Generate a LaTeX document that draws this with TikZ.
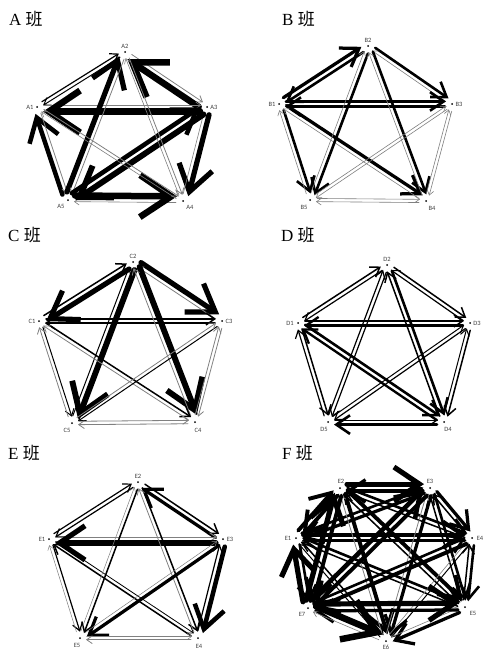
\documentclass[tikz,border=0pt]{standalone}
\usepackage{fontspec}
\setmainfont{Liberation Serif}
\newfontfamily\cjk{Noto Sans CJK SC}
\newfontfamily\lblfont{Carlito}
\usetikzlibrary{arrows.meta,calc,positioning}
\tikzset{
 dot/.style={circle,fill=black,inner sep=0pt,minimum size=2pt},
 lbl/.style={font=\lblfont\fontsize{6.5}{7}\selectfont,inner sep=0.6pt,text=black!75},
 ttl/.style={font=\fontsize{17}{19}\selectfont,anchor=west,inner sep=0pt},
 edge/.style={-{Straight Barb[length=2pt 4.5,width=3pt 6]},shorten <=7pt,shorten >=6pt,line cap=round,line join=round},
}
\newcommand\ed[4][black]{\pgfmathsetmacro\ew{#4>1.5 ? 1.3*#4 : #4}\pgfmathsetmacro\eoff{1.3+0.5*\ew}%
 \draw[edge,draw=#1,line width=\ew pt] ($(#2)!\eoff pt!90:(#3)$) -- ($(#3)!\eoff pt!-90:(#2)$);}
\newcommand\nd[6]{% name, x, y, text, label dx, label dy
 \node[dot] (#1) at (#2,#3) {}; \node[lbl] (#1l) at ($(#1)+(#5,#6)$) {#4};}
\begin{document}
\begin{tikzpicture}[x=1pt,y=-1pt]
\useasboundingbox[fill=white] (0,0) rectangle (483,650);
% titles
\node[ttl] (ta) at (9,19) {A {\cjk 班}};
\node[ttl] (tb) at (282,19) {B {\cjk 班}};
\node[ttl] (tc) at (8,235) {C {\cjk 班}};
\node[ttl] (td) at (281,235) {D {\cjk 班}};
\node[ttl] (te) at (8,453) {E {\cjk 班}};
\node[ttl] (tf) at (282,453) {F {\cjk 班}};
% ---------- A ----------
\nd{a2}{125}{52}{A2}{0}{-6}
\nd{a1}{37}{107}{A1}{-7}{0}
\nd{a3}{207}{107}{A3}{7}{0}
\nd{a5}{68}{200}{A5}{-7}{6}
\nd{a4}{183}{201}{A4}{7}{6}
\ed{a1}{a2}{1.2} \ed{a2}{a1}{1}
\ed[gray]{a2}{a3}{0.8} \ed{a3}{a2}{5}
\ed[gray]{a1}{a3}{0.6} \ed{a3}{a1}{5}
\ed{a3}{a4}{4} \ed[gray]{a4}{a3}{0.6}
\ed[gray]{a4}{a5}{0.6} \ed{a5}{a4}{5}
\ed{a5}{a1}{3.5} \ed[gray]{a1}{a5}{0.8}
\ed{a5}{a2}{4} \ed[gray]{a2}{a5}{0.8}
\ed{a3}{a5}{4.5} \ed{a5}{a3}{3.5}
\ed[gray]{a1}{a4}{0.8} \ed[gray]{a4}{a1}{0.6}
\ed[gray]{a2}{a4}{0.8} \ed[gray]{a4}{a2}{0.6}
% ---------- B ----------
\nd{b2}{368}{46}{B2}{0}{-6}
\nd{b1}{279}{104}{B1}{-7}{0}
\nd{b3}{452}{104}{B3}{7}{0}
\nd{b5}{310}{200}{B5}{-6}{7}
\nd{b4}{426}{201}{B4}{6}{7}
\ed{b1}{b2}{2.5} \ed{b2}{b1}{2}
\ed{b2}{b3}{2} \ed[gray]{b3}{b2}{0.6}
\ed{b1}{b3}{2} \ed{b3}{b1}{2}
\ed{b1}{b5}{2} \ed[gray]{b5}{b1}{0.6}
\ed{b1}{b4}{2.5} \ed[gray]{b4}{b1}{0.6}
\ed{b2}{b5}{2} \ed[gray]{b5}{b2}{0.6}
\ed{b2}{b4}{2} \ed[gray]{b4}{b2}{0.6}
\ed[gray]{b3}{b5}{0.6} \ed[gray]{b5}{b3}{0.6}
\ed[gray]{b3}{b4}{0.6} \ed[gray]{b4}{b3}{0.6}
\ed[gray]{b5}{b4}{0.6} \ed[gray]{b4}{b5}{0.6}
% ---------- C ----------
\nd{c2}{133}{262}{C2}{0}{-6}
\nd{c1}{39}{321}{C1}{-7}{0}
\nd{c3}{222}{321}{C3}{7}{0}
\nd{c5}{72}{423}{C5}{-5}{7}
\nd{c4}{195}{422}{C4}{3}{8}
\ed{c1}{c2}{1.5} \ed{c2}{c1}{4}
\ed{c2}{c3}{4} \ed[gray]{c3}{c2}{0.8}
\ed{c1}{c3}{1.5} \ed{c3}{c1}{1.5}
\ed{c2}{c5}{4.5} \ed{c5}{c2}{1}
\ed{c2}{c4}{4.5} \ed[gray]{c4}{c2}{0.8}
\ed{c1}{c5}{1} \ed[gray]{c5}{c1}{0.8}
\ed{c1}{c4}{1.5} \ed[gray]{c4}{c1}{0.8}
\ed{c3}{c5}{1} \ed[gray]{c5}{c3}{0.8}
\ed[gray]{c3}{c4}{0.8} \ed[gray]{c4}{c3}{0.8}
\ed[gray]{c5}{c4}{0.8} \ed[gray]{c4}{c5}{0.8}
% ---------- D ----------
\nd{d2}{387}{265}{D2}{0}{-6}
\nd{d1}{298}{323}{D1}{-8}{0}
\nd{d3}{470}{323}{D3}{7}{0}
\nd{d5}{328}{422}{D5}{-4}{7}
\nd{d4}{444}{422}{D4}{4}{7}
\ed{d1}{d2}{1.5} \ed{d2}{d1}{1.2}
\ed{d2}{d3}{1.5} \ed{d3}{d2}{1.2}
\ed{d1}{d3}{1.5} \ed{d3}{d1}{1.8}
\ed{d1}{d5}{1.5} \ed{d5}{d1}{1.2}
\ed{d1}{d4}{2} \ed{d4}{d1}{1.8}
\ed{d2}{d5}{1.2} \ed{d5}{d2}{1.2}
\ed{d2}{d4}{2} \ed{d4}{d2}{1.5}
\ed{d3}{d5}{1.2} \ed{d5}{d3}{1}
\ed{d3}{d4}{1.5} \ed{d4}{d3}{1}
\ed{d5}{d4}{1.2} \ed{d4}{d5}{2}
% ---------- E ----------
\nd{e2}{138}{482}{E2}{0}{-6}
\nd{e1}{49}{539}{E1}{-7}{0}
\nd{e3}{223}{539}{E3}{7}{0}
\nd{e5}{80}{638}{E5}{-3}{7}
\nd{e4}{198}{638}{E4}{1}{8}
\ed{e1}{e2}{1.2} \ed{e2}{e1}{1.2}
\ed{e2}{e3}{1.5} \ed{e3}{e2}{2.5}
\ed[gray]{e1}{e3}{1} \ed{e3}{e1}{4}
\ed{e1}{e5}{1.2} \ed[gray]{e5}{e1}{0.5}
\ed{e1}{e4}{0.8} \ed{e4}{e1}{1.5}
\ed{e2}{e5}{1.5} \ed[gray]{e5}{e2}{0.5}
\ed{e2}{e4}{1.5} \ed[gray]{e4}{e2}{0.8}
\ed{e3}{e5}{2.5} \ed[gray]{e5}{e3}{0.5}
\ed{e3}{e4}{3.5} \ed{e4}{e3}{1.2}
\ed[gray]{e5}{e4}{0.5} \ed[gray]{e4}{e5}{0.8}
% ---------- F ----------
\nd{f2}{340}{488}{E2}{1}{-7}
\nd{f3}{430}{488}{E3}{0}{-7}
\nd{f1}{296}{538}{E1}{-8}{0}
\nd{f4}{472}{538}{E4}{8}{0}
\nd{f7}{308}{608}{E7}{-6}{6}
\nd{f5}{465}{607}{E5}{8}{6}
\nd{f6}{386}{641}{E6}{0}{6}
\ed{f1}{f2}{3} \ed{f2}{f1}{3}
\ed{f1}{f3}{2} \ed{f3}{f1}{2.5}
\ed{f1}{f4}{3} \ed{f4}{f1}{2}
\ed{f1}{f5}{2} \ed{f5}{f1}{1.5}
\ed{f1}{f6}{1.5} \ed{f6}{f1}{1}
\ed{f1}{f7}{2} \ed{f7}{f1}{4}
\ed{f2}{f3}{4} \ed{f3}{f2}{2.5}
\ed{f2}{f4}{2} \ed{f4}{f2}{1.5}
\ed{f2}{f5}{3} \ed{f5}{f2}{1.5}
\ed{f2}{f6}{3} \ed[gray]{f6}{f2}{0.8}
\ed{f2}{f7}{3} \ed{f7}{f2}{4}
\ed{f3}{f4}{2.5} \ed{f4}{f3}{1.5}
\ed{f3}{f5}{2} \ed{f5}{f3}{1.5}
\ed{f3}{f6}{2.5} \ed[gray]{f6}{f3}{0.8}
\ed{f3}{f7}{3} \ed{f7}{f3}{3.5}
\ed{f4}{f5}{2} \ed{f5}{f4}{1.5}
\ed{f4}{f6}{1} \ed[gray]{f6}{f4}{0.6}
\ed{f4}{f7}{3} \ed{f7}{f4}{2}
\ed{f5}{f6}{2.5} \ed[gray]{f6}{f5}{0.6}
\ed{f5}{f7}{2.5} \ed{f7}{f5}{4}
\ed[gray]{f6}{f7}{0.6} \ed{f7}{f6}{5}
\end{tikzpicture}
\end{document}
